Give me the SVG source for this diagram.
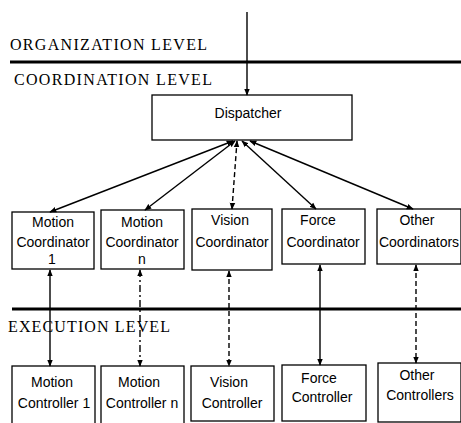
<svg xmlns="http://www.w3.org/2000/svg" width="461" height="423" viewBox="0 0 461 423">
<defs>
<marker id="ah" viewBox="0 0 10 10" refX="9" refY="5" markerWidth="7" markerHeight="7" orient="auto-start-reverse" markerUnits="userSpaceOnUse">
<path d="M0,1 L10,5 L0,9 z" fill="#000"/>
</marker>
</defs>
<style>
.lvl{font-family:"Liberation Serif","Times New Roman",serif;font-size:16px;fill:#000}
.t{font-family:"Liberation Sans",Arial,sans-serif;font-size:14px;fill:#000;text-anchor:middle}
.box{fill:#fff;stroke:#000;stroke-width:1.3}
.c{fill:none;stroke:#000;stroke-width:1.4;marker-start:url(#ah);marker-end:url(#ah)}
.d{stroke-dasharray:5,3}
.dd{stroke-dasharray:7,3,2,3}
.sep{stroke:#000;stroke-width:3}
</style>
<rect width="461" height="423" fill="#fff"/>
<g id="levels">
<text class="lvl" x="10" y="50" textLength="197" lengthAdjust="spacing">ORGANIZATION LEVEL</text>
<line class="sep" x1="10" y1="62" x2="461" y2="62"/>
<text class="lvl" x="14" y="85" textLength="198" lengthAdjust="spacing">COORDINATION LEVEL</text>
<line class="sep" x1="12" y1="309" x2="461" y2="309"/>
<text class="lvl" x="8" y="332" textLength="162" lengthAdjust="spacing">EXECUTION LEVEL</text>
</g>
<g id="dispatcher">
<rect class="box" x="152" y="95" width="200" height="45"/>
<text class="t" x="248" y="118" font-size="12.5">Dispatcher</text>
</g>
<g id="motion-coord-1">
<rect class="box" x="12" y="212" width="82" height="57"/>
<text class="t" x="53" y="227">Motion</text>
<text class="t" x="53" y="247">Coordinator</text>
<text class="t" x="52" y="264">1</text>
</g>
<g id="motion-coord-n">
<rect class="box" x="101" y="210" width="83" height="59"/>
<text class="t" x="142" y="227">Motion</text>
<text class="t" x="142" y="247">Coordinator</text>
<text class="t" x="142" y="264">n</text>
</g>
<g id="vision-coord">
<rect class="box" x="192" y="209" width="80" height="61"/>
<text class="t" x="230" y="225">Vision</text>
<text class="t" x="232" y="247">Coordinator</text>
</g>
<g id="force-coord">
<rect class="box" x="282" y="209" width="83" height="55"/>
<text class="t" x="318" y="225">Force</text>
<text class="t" x="323" y="247">Coordinator</text>
</g>
<g id="other-coord">
<rect class="box" x="377" y="209" width="84" height="55"/>
<text class="t" x="417" y="225">Other</text>
<text class="t" x="419" y="247">Coordinators</text>
</g>
<g id="motion-ctrl-1">
<rect class="box" x="12" y="366" width="83" height="60"/>
<text class="t" x="52" y="387">Motion</text>
<text class="t" x="54" y="408">Controller 1</text>
</g>
<g id="motion-ctrl-n">
<rect class="box" x="101" y="366" width="83" height="60"/>
<text class="t" x="139" y="387">Motion</text>
<text class="t" x="142" y="408">Controller n</text>
</g>
<g id="vision-ctrl">
<rect class="box" x="191" y="366" width="83" height="55"/>
<text class="t" x="229" y="387">Vision</text>
<text class="t" x="232" y="408">Controller</text>
</g>
<g id="force-ctrl">
<rect class="box" x="282" y="365" width="84" height="56"/>
<text class="t" x="319" y="383">Force</text>
<text class="t" x="322" y="402">Controller</text>
</g>
<g id="other-ctrl">
<rect class="box" x="378" y="363" width="83" height="59"/>
<text class="t" x="417" y="380">Other</text>
<text class="t" x="420" y="400">Controllers</text>
</g>
<g id="connectors">
<line x1="247" y1="12" x2="247" y2="95" stroke="#000" stroke-width="1.4" marker-end="url(#ah)"/>
<line class="c" x1="50" y1="212" x2="233" y2="141"/>
<line class="c" x1="145" y1="210" x2="235" y2="141"/>
<line class="c d" x1="232" y1="209" x2="237" y2="141"/>
<line class="c" x1="316" y1="209" x2="242" y2="141"/>
<line class="c" x1="413" y1="209" x2="250" y2="141"/>
<line class="c" x1="50" y1="270" x2="50" y2="366"/>
<line class="c dd" x1="140" y1="270" x2="140" y2="366"/>
<line class="c d" x1="229" y1="271" x2="229" y2="366"/>
<line class="c" x1="320" y1="265" x2="320" y2="365"/>
<line class="c d" x1="416" y1="265" x2="416" y2="363"/>
</g>
</svg>
